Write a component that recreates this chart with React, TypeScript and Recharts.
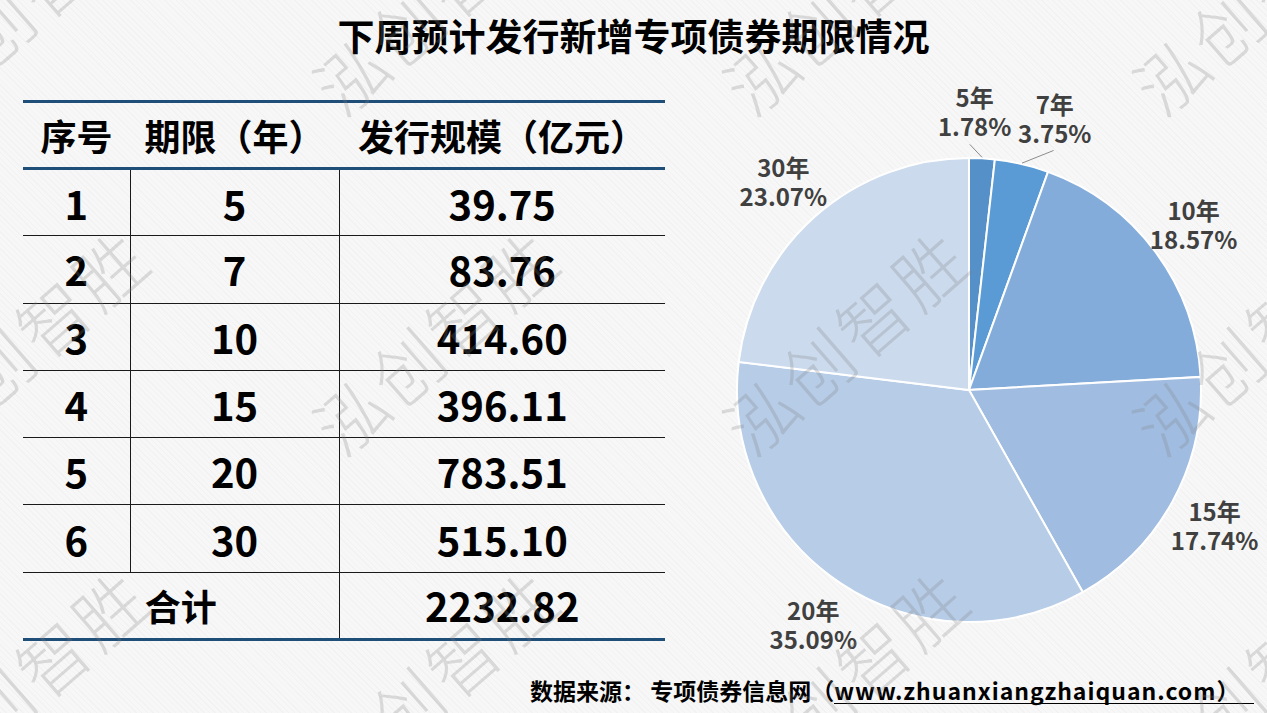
import { Cell, Pie, PieChart } from "recharts";

const TERMS = ["5年", "7年", "10年", "15年", "20年", "30年"];
const YEARS = [5, 7, 10, 15, 20, 30];
const AMOUNTS = [39.75, 83.76, 414.6, 396.11, 783.51, 515.1];
const TOTAL_TEXT = "2232.82";
const HEADERS = ["序号", "期限（年）", "发行规模（亿元）"];

const SLICE_COLORS = ["#5590c8", "#5b9bd5", "#84acda", "#a0bce1", "#b7cce7", "#cbdaed"];
// small horizontal nudges so the two thin slices' labels don't collide
const LABEL_DX = [-10, 22, 0, 0, 0, 0];
const FONT = '"Noto Sans CJK SC", "Noto Sans", sans-serif';
const BLUE_RULE = "3px solid #1f4e79";
const THIN_RULE = "1.5px solid #1a1a1a";
const RAD = Math.PI / 180;

const pieData = TERMS.map((name, i) => ({ name, value: AMOUNTS[i] }));

function renderLabel(props: any) {
  const { cx, cy, midAngle, outerRadius, percent, name, index } = props;
  const r = outerRadius + 48;
  const x = cx + r * Math.cos(-midAngle * RAD) + (LABEL_DX[index] || 0);
  const y = cy + r * Math.sin(-midAngle * RAD);
  return (
    <text x={x} y={y} textAnchor="middle" fill="#404040" fontSize={24} fontWeight="bold" fontFamily={FONT}>
      <tspan x={x} dy={-3}>{name}</tspan>
      <tspan x={x} dy={29}>{(percent * 100).toFixed(2)}%</tspan>
    </text>
  );
}

function renderLabelLine(props: any) {
  const { cx, cy, midAngle, outerRadius, percent, index } = props;
  if (percent >= 0.05) return <path d="" />;
  const a = -midAngle * RAD;
  const x1 = cx + (outerRadius + 1) * Math.cos(a);
  const y1 = cy + (outerRadius + 1) * Math.sin(a);
  const x2 = cx + (outerRadius + 14) * Math.cos(a) + (LABEL_DX[index] || 0) * 1.3;
  const y2 = cy + (outerRadius + 14) * Math.sin(a);
  return <path d={`M${x1},${y1}L${x2},${y2}`} stroke="#8c8c8c" strokeWidth={1} fill="none" />;
}

// watermark grid
const WM_X = [25, 435, 845, 1255];
const WM_Y = [0, 340, 680];

const cellBase = {
  padding: 0,
  textAlign: "center" as const,
  fontWeight: "bold" as const,
  color: "#000",
  lineHeight: 1,
};

export default function App() {
  return (
    <div
      style={{
        position: "absolute",
        left: 0,
        top: 0,
        width: 1267,
        height: 713,
        overflow: "hidden",
        fontFamily: FONT,
        backgroundColor: "#f7f7f7",
        backgroundImage:
          "repeating-linear-gradient(45deg, rgba(0,0,0,0.018) 0px, rgba(0,0,0,0.018) 1px, transparent 1px, transparent 4px)",
      }}
    >
      <div
        style={{
          position: "absolute",
          left: 0,
          width: 1267,
          top: 10,
          textAlign: "center",
          fontSize: 37,
          fontWeight: "bold",
          color: "#000",
          lineHeight: "50px",
        }}
      >
        下周预计发行新增专项债券期限情况
      </div>

      <table
        style={{
          position: "absolute",
          left: 23,
          top: 100,
          width: 642,
          borderCollapse: "collapse",
          tableLayout: "fixed",
        }}
      >
        <colgroup>
          <col style={{ width: 107 }} />
          <col style={{ width: 209 }} />
          <col style={{ width: 326 }} />
        </colgroup>
        <thead>
          <tr style={{ borderTop: BLUE_RULE, borderBottom: BLUE_RULE, height: 67 }}>
            {HEADERS.map((h) => (
              <th key={h} style={{ ...cellBase, fontSize: 36 }}>
                {h}
              </th>
            ))}
          </tr>
        </thead>
        <tbody>
          {YEARS.map((y, i) => (
            <tr key={y} style={{ borderBottom: THIN_RULE, height: 67.3 }}>
              <td style={{ ...cellBase, fontSize: 40, borderRight: THIN_RULE }}>{i + 1}</td>
              <td style={{ ...cellBase, fontSize: 40, borderRight: THIN_RULE }}>{y}</td>
              <td style={{ ...cellBase, fontSize: 40 }}>{AMOUNTS[i].toFixed(2)}</td>
            </tr>
          ))}
          <tr style={{ borderBottom: BLUE_RULE, height: 67.3 }}>
            <td colSpan={2} style={{ ...cellBase, fontSize: 36, borderRight: THIN_RULE }}>合计</td>
            <td style={{ ...cellBase, fontSize: 40 }}>{TOTAL_TEXT}</td>
          </tr>
        </tbody>
      </table>

      <div style={{ position: "absolute", left: 700, top: 60 }}>
        <PieChart width={567} height={620} margin={{ top: 0, right: 0, bottom: 0, left: 0 }}>
          <Pie
            data={pieData}
            dataKey="value"
            nameKey="name"
            cx={269}
            cy={330}
            outerRadius={232}
            startAngle={90}
            endAngle={-270}
            stroke="#ffffff"
            strokeWidth={2}
            label={renderLabel}
            labelLine={renderLabelLine}
            isAnimationActive={false}
          >
            {pieData.map((d, i) => (
              <Cell key={d.name} fill={SLICE_COLORS[i]} />
            ))}
          </Pie>
        </PieChart>
      </div>

      <div
        style={{
          position: "absolute",
          left: 530,
          top: 677,
          fontSize: 23,
          fontWeight: "bold",
          color: "#000",
          whiteSpace: "nowrap",
          lineHeight: "27px",
        }}
      >
        数据来源：&nbsp;专项债券信息网（
        <span
          style={{
            display: "inline-block",
            borderBottom: "1.5px solid #000",
            paddingRight: 14,
            letterSpacing: 1,
            lineHeight: "25px",
          }}
        >
          www.zhuanxiangzhaiquan.com）
        </span>
      </div>

      {WM_Y.map((y) =>
        WM_X.map((x) => (
          <div
            key={`${x}-${y}`}
            style={{
              position: "absolute",
              left: x,
              top: y,
              transform: "translate(-50%, -50%) rotate(-41deg)",
              fontSize: 70,
              fontWeight: 300,
              letterSpacing: 4,
              color: "rgba(128,128,128,0.25)",
              whiteSpace: "nowrap",
              pointerEvents: "none",
              lineHeight: 1,
            }}
          >
            泓创智胜
          </div>
        ))
      )}
    </div>
  );
}
